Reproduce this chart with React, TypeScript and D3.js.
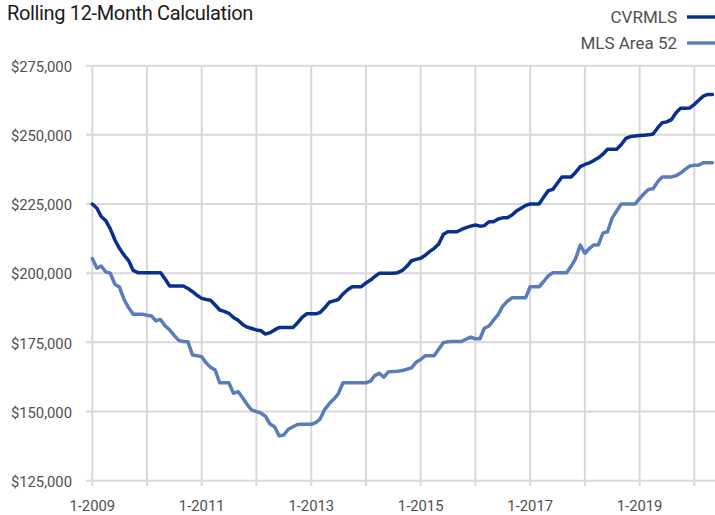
import React from 'react';
import * as d3 from 'd3';

// monthly rolling 12-month median, Jan 2009 .. May 2020
const cvrmls: number[] = [
  225000, 223500, 220500, 219000, 216000, 212000, 209000, 206500, 204500, 201000, 200200, 200200,
  200200, 200200, 200200, 200200, 198000, 195400, 195400, 195400, 195400, 194500, 193300, 192000,
  190900, 190500, 190200, 188500, 186700, 186200, 185500, 184000, 183000, 181500, 180500, 180000,
  179500, 179200, 178000, 178500, 179500, 180400, 180400, 180400, 180400, 182000, 184000, 185300,
  185300, 185300, 185800, 187500, 189500, 190000, 190500, 192500, 194000, 195100, 195100, 195100,
  196500, 197500, 198800, 200000, 200000, 200000, 200000, 200200, 201000, 202500, 204500, 205000,
  205400, 206500, 207800, 209000, 210500, 214000, 215000, 215000, 215000, 215800, 216500, 217000,
  217400, 217000, 217200, 218600, 218600, 219600, 220000, 220000, 221000, 222500, 223500, 224500,
  225000, 225000, 225000, 227500, 229800, 230300, 232500, 234800, 234800, 234800, 236500, 238500,
  239300, 239900, 240700, 241700, 243000, 244800, 244800, 244800, 246500, 248700, 249400, 249600,
  249800, 249900, 250000, 250300, 252500, 254400, 254700, 255500, 258000, 259600, 259600, 259700,
  261000, 262600, 264000, 264600, 264600,
];

const mlsArea52: number[] = [
  205300, 201800, 202600, 200500, 200000, 196000, 195000, 190500, 187500, 185200, 185200, 185200,
  184800, 184500, 182800, 183300, 181000, 179500, 177500, 175700, 175300, 175200, 170400, 170200,
  169800, 167500, 166000, 165000, 160400, 160400, 160400, 156600, 157200, 155000, 152500, 150500,
  150000, 149400, 148300, 145500, 144500, 141200, 141500, 143600, 144500, 145300, 145400, 145400,
  145400, 146000, 147300, 150800, 152800, 154500, 156500, 160400, 160400, 160400, 160400, 160400,
  160400, 161000, 163000, 163800, 162400, 164400, 164500, 164600, 164800, 165300, 165800, 167800,
  168800, 170200, 170200, 170200, 172500, 174900, 175200, 175300, 175300, 175300, 176200, 176900,
  176300, 176300, 180100, 180900, 183000, 185000, 188000, 189800, 191100, 191100, 191100, 191100,
  195100, 195100, 195100, 197000, 199000, 200200, 200200, 200200, 200200, 202500, 205400, 210200,
  207200, 209000, 210200, 210200, 214500, 215000, 219800, 222500, 225000, 225000, 225000, 225000,
  227000, 228800, 230300, 230500, 233000, 234800, 234800, 234800, 235200, 236200, 237500, 238700,
  239000, 239100, 239900, 239900, 239900,
];

const seriesNames = ['CVRMLS', 'MLS Area 52'];
const seriesColors = ['#08318d', '#5b7cba'];
const yTicks = [125000, 150000, 175000, 200000, 225000, 250000, 275000];
const yearTicks = d3.range(2009, 2021);
const labelYears = [2009, 2011, 2013, 2015, 2017, 2019];

const W = 715;
const H = 515;
const font = 'Roboto, "Liberation Sans", Arial, sans-serif';

export default function App() {
  const start = new Date(2009, 0, 1);
  const x = d3.scaleTime()
    .domain([start, new Date(2020, 0, 1)])
    .range([92.3, 694.3]);
  const y = d3.scaleLinear().domain([125000, 275000]).range([480.7, 65.7]);

  const line = d3.line<number>()
    .x((_, i) => x(d3.timeMonth.offset(start, i)))
    .y((d) => y(d));

  const fmt = (v: number) => '$' + d3.format(',')(v);

  return (
    <svg width={W} height={H} style={{ position: 'absolute', left: 0, top: 0, background: '#fff' }}>
      <text x={7} y={20} fontFamily={font} fontSize={20} letterSpacing={-0.35} fill="#1a1a1a">Rolling 12-Month Calculation</text>

      {seriesNames.map((name, i) => (
        <g key={name}>
          <text x={677} y={17 + i * 26} dy="0.36em" textAnchor="end" fontFamily={font} fontSize={17} fill="#505050">{name}</text>
          <line x1={687} x2={W} y1={17 + i * 26} y2={17 + i * 26} stroke={seriesColors[i]} strokeWidth={3.4} />
        </g>
      ))}

      {yTicks.map((t) => (
        <g key={t}>
          <line x1={86} x2={W} y1={y(t)} y2={y(t)} stroke="#d9d9d9" strokeWidth={2} />
          <text x={72} y={y(t)} dy="0.42em" textAnchor="end" fontFamily={font} fontSize={14.8} fill="#505050">{fmt(t)}</text>
        </g>
      ))}

      {yearTicks.map((yr) => (
        <line key={yr} x1={x(new Date(yr, 0, 1))} x2={x(new Date(yr, 0, 1))} y1={y(275000)} y2={486}
          stroke="#d9d9d9" strokeWidth={2} />
      ))}

      {labelYears.map((yr) => (
        <text key={yr} x={x(new Date(yr, 0, 1))} y={511} textAnchor="middle" fontFamily={font} fontSize={14.8} fill="#505050">
          {'1-' + yr}
        </text>
      ))}

      <path d={line(mlsArea52) || ''} fill="none" stroke={seriesColors[1]} strokeWidth={3.5} strokeLinejoin="round" strokeLinecap="round" />
      <path d={line(cvrmls) || ''} fill="none" stroke={seriesColors[0]} strokeWidth={3.5} strokeLinejoin="round" strokeLinecap="round" />
    </svg>
  );
}
